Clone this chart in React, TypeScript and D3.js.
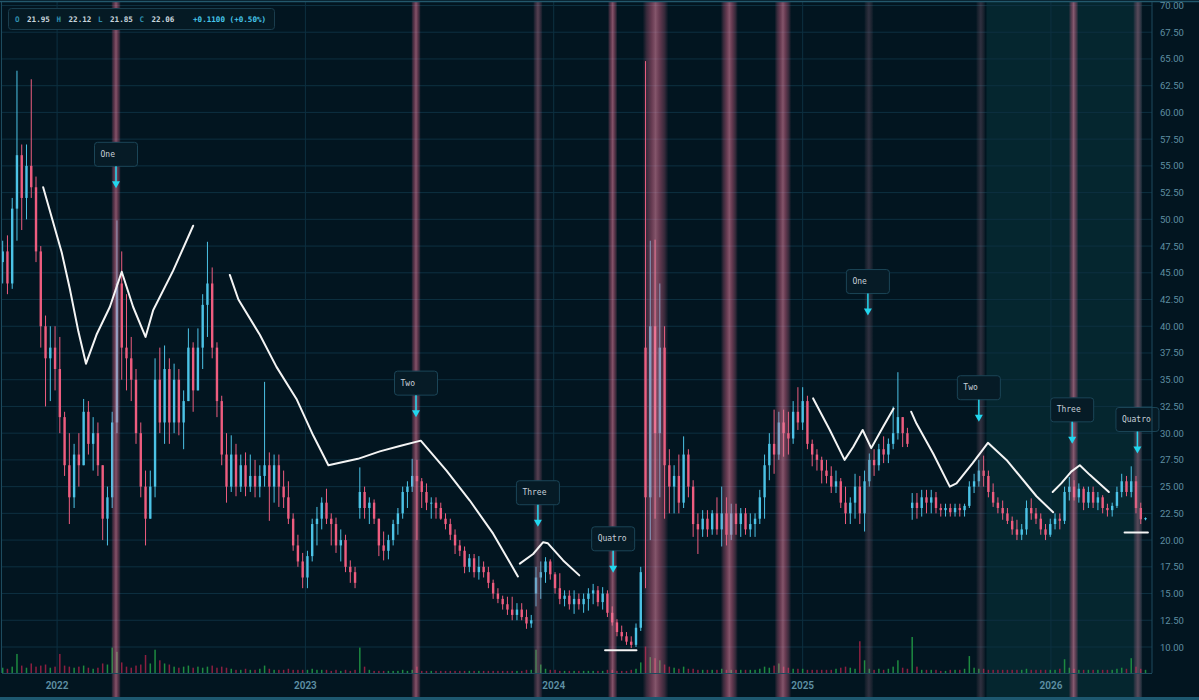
import React from "react";
import * as d3 from "d3";

// weekly bars: [open, high, low, close, volume]
type Bar = [number, number, number, number, number];

const bars2021: Bar[] = [
  [46, 48, 44, 47, 5], [47, 48.5, 43, 44, 4], [44, 52, 43.5, 51, 6], [51, 63.9, 48, 56, 18],
  [56, 57, 49, 52, 7], [52, 57, 50, 55, 5], [55, 63.1, 52, 53, 9], [53, 54, 46, 47, 6],
  [47, 47.5, 38, 40, 7], [40, 41, 32.5, 37, 8], [37, 40, 33, 38, 5], [38, 40, 34, 36, 6],
];

const bars2022: Bar[] = [
  [36, 39, 30, 31.5, 18], [31.5, 32, 26, 27, 7], [27, 30, 21.5, 24, 6], [24, 29, 23, 28, 5],
  [28, 30, 25, 27, 6], [27, 33.2, 27, 32, 7], [32, 33, 28, 29, 5], [29, 31.5, 26.5, 30, 4],
  [30, 31, 26, 27, 5], [27, 27, 20, 22, 9], [22, 25, 19.5, 24, 8], [24, 32, 23, 31, 24],
  [31, 49.9, 30, 44, 20], [44, 47, 35, 38, 10], [38, 43, 34, 37, 6], [37, 39, 33, 35, 5],
  [35, 36, 29, 30, 7], [30, 31, 24, 25, 8], [25, 26.5, 19.5, 22, 17], [22, 26.5, 22, 25, 9],
  [25, 37, 24, 35, 22], [35, 38, 30, 31, 12], [31, 38.2, 29, 36, 9], [36, 37, 29, 31, 8],
  [31, 36.5, 30, 35, 6], [35, 36, 29.8, 31, 5], [31, 34, 28.5, 33, 6], [33, 39.8, 33, 38, 7],
  [38, 38.5, 32, 34, 5], [34, 39.8, 34, 38, 6], [38, 43, 36, 42, 5], [42, 47.9, 39, 44, 6],
  [44, 45.5, 37, 38, 7], [38, 38.5, 31.5, 33, 5], [33, 33.5, 27, 28, 6], [28, 30, 23.5, 25, 5],
  [25, 29.8, 24.5, 28, 4], [28, 29, 24.1, 25, 3], [25, 28, 24.5, 27, 3], [27, 28.2, 24.1, 25, 4],
  [25, 28, 24.5, 26, 3], [26, 27.5, 24, 25, 3], [25, 27, 24, 26, 4], [26, 34.8, 25, 27, 7],
  [27, 28.2, 21.8, 25, 4], [25, 28, 23.5, 27, 3], [27, 28, 23.1, 25, 3], [25, 26.5, 23, 24, 3],
  [24, 25.5, 21.5, 22, 4], [22, 22.5, 19, 19.5, 3], [19.5, 20.5, 17.5, 18, 3], [18, 18.8, 15.5, 16.5, 3],
];

const bars2023: Bar[] = [
  [16.5, 19, 15.5, 18.5, 3], [18.5, 22, 18, 21.5, 4], [21.5, 23.1, 19.5, 22, 3], [22, 24, 21, 23.5, 3],
  [23.5, 24.8, 21.5, 22, 3], [22, 22.5, 19.5, 21.5, 2], [21.5, 22.1, 18.8, 19.5, 3], [19.5, 21, 18, 20, 2],
  [20, 20.5, 17, 17.5, 3], [17.5, 18.1, 16, 17, 2], [17, 17.5, 15.5, 16, 3], [23, 26.8, 22, 24.5, 24],
  [24.5, 25, 22, 23, 6], [23, 24, 21.5, 23.5, 3], [23.5, 23.8, 21.5, 22, 2], [22, 22, 18.5, 19.5, 2],
  [19.5, 20.8, 18.1, 19, 2], [19, 20.5, 18.2, 20, 2], [20, 21.9, 19.5, 21.5, 2], [21.5, 23, 20.5, 22.5, 2],
  [22.5, 25, 22, 24.5, 3], [24.5, 25.5, 23, 25, 2], [25, 27.6, 24.5, 26, 3], [26, 27.5, 20, 25.5, 6],
  [25.5, 25.8, 23, 24.5, 2], [24.5, 25.3, 22.8, 23.5, 2], [23.5, 24, 22, 23.5, 2], [23.5, 24, 22, 23, 2],
  [23, 23.5, 21.9, 22, 2], [22, 22.5, 21, 21.5, 2], [21.5, 22, 20, 20.5, 2], [20.5, 21, 18.7, 19.5, 2],
  [19.5, 20, 18.5, 19, 2], [19, 19.4, 16.9, 17.5, 2], [17.5, 18.7, 17, 18.3, 2], [18.3, 18.7, 16.5, 17, 2],
  [17, 18.5, 16.3, 17.5, 2], [17.5, 18, 16.5, 17, 2], [17, 17.5, 15.5, 16, 2], [16, 16.3, 14.5, 15, 2],
  [15, 15.5, 14.1, 14.5, 2], [14.5, 14.8, 13.5, 14, 2], [14, 14.7, 13, 13.5, 2], [13.5, 14.7, 12.5, 13, 2],
  [13, 14.1, 12.5, 13.5, 2], [13.5, 14.1, 12.5, 12.8, 2], [12.8, 13.5, 11.7, 12.2, 3], [12.2, 13, 11.8, 12.5, 3],
  [15, 17.5, 13.8, 16.5, 22], [16.5, 18, 14.5, 17, 8], [17, 18.4, 16, 18, 4], [18, 18.2, 16.3, 16.8, 3],
];

const bars2024: Bar[] = [
  [16.8, 17, 15, 15.5, 3], [15.5, 16.9, 14, 14.5, 2], [14.5, 15.3, 13.8, 14.8, 2], [14.8, 15.3, 13.5, 14, 2],
  [14, 15.3, 13.1, 14.5, 2], [14.5, 15, 13.5, 14, 2], [14, 15, 13.2, 14.5, 2], [14.5, 15.5, 13.4, 15, 2],
  [15, 15.9, 14, 15.3, 2], [15.3, 15.7, 13.8, 14.2, 2], [14.2, 15.6, 13.5, 15, 2], [15, 15.3, 12.8, 13.2, 3],
  [13.2, 13.8, 12, 12.3, 3], [12.3, 12.6, 11, 11.4, 2], [11.4, 12, 10.6, 11, 2], [11, 11.4, 10.2, 10.5, 2],
  [10.5, 11, 9.9, 10.2, 3], [10.2, 12.2, 10, 11.8, 4], [11.8, 17.5, 11.5, 17, 10], [38, 64.8, 15.5, 24, 25],
  [24, 48, 20, 40, 15], [40, 48.1, 22, 30, 14], [30, 44, 24, 38, 12], [38, 40, 22, 27, 8],
  [27, 28.5, 22.5, 25, 6], [25, 27, 22.5, 26, 5], [26, 28, 22.5, 23.5, 4], [23.5, 29.7, 23, 28, 6],
  [28, 28.5, 24, 25, 4], [25, 25.6, 20.3, 21.5, 4], [21.5, 22.5, 18.7, 21, 3], [21, 22.8, 20.3, 22, 3],
  [22, 22.8, 20.3, 21, 3], [21, 22.8, 20.5, 22.5, 3], [22.5, 24, 20.5, 21, 3], [21, 25, 19.4, 22.5, 4],
  [22.5, 24, 19.5, 20.5, 3], [20.5, 23.4, 20, 22.5, 3], [22.5, 23.4, 20.5, 21.5, 3], [21.5, 23, 20.3, 22.5, 3],
  [22.5, 23, 20.5, 21, 3], [21, 22.5, 20.3, 21.5, 3], [21.5, 22.5, 20.3, 22, 3], [22, 24.7, 21.5, 24, 4],
  [24, 28, 22, 27, 6], [27, 30, 25.6, 29, 5], [29, 32.2, 26.2, 28, 7], [28, 32, 27.5, 31, 9],
  [31, 32.2, 27.8, 30, 6], [30, 32, 28, 29.5, 5], [29.5, 33, 29, 32, 4], [32, 34.3, 30.3, 31, 4],
];

const bars2025: Bar[] = [
  [31, 34.3, 30.3, 33, 4], [33, 33.5, 28.5, 29, 3], [29, 29.4, 26.9, 28, 3], [28, 28.5, 26.5, 27.5, 3],
  [27.5, 27.8, 25.3, 26.5, 3], [26.5, 27.5, 25.3, 26, 3], [26, 26.9, 24.4, 25, 3], [25, 26.5, 24.4, 25.5, 4],
  [25.5, 25.8, 23, 23.5, 5], [23.5, 25, 21.5, 22.5, 6], [22.5, 24, 21.5, 23.5, 5], [23.5, 26.2, 22, 25, 4],
  [25, 26, 21.5, 22.5, 30], [22.5, 26.5, 20.8, 25.5, 12], [25.5, 28.1, 25, 27.5, 4], [27.5, 28.5, 26, 27, 3],
  [27, 29, 26.5, 28.5, 4], [28.5, 29.7, 27.2, 28, 3], [28, 29.5, 27.2, 29, 4], [29, 32.5, 28.5, 30, 6],
  [30, 35.7, 29.4, 31.5, 12], [31.5, 31.5, 28.7, 30, 5], [30, 30.5, 28.7, 29, 4], [23, 24.4, 21.9, 23.5, 34],
  [23.5, 24.4, 22, 23, 6], [23, 24.7, 22.2, 24, 3], [24, 24.7, 22.5, 23.5, 3], [23.5, 24.7, 22.5, 24, 3],
  [24, 24.5, 22.5, 23, 3], [23, 23.4, 22.2, 22.8, 2], [22.8, 23.4, 22.2, 23, 2], [23, 23.4, 22.2, 22.6, 3],
  [22.6, 23.4, 22.2, 23, 3], [23, 23.4, 22.2, 22.8, 3], [22.8, 23.4, 22.2, 23.2, 4], [23.2, 25.5, 23, 25, 16],
  [25, 26.2, 24.4, 25.5, 5], [25.5, 27.5, 25, 26.5, 4], [26.5, 27.9, 25, 26, 4], [26, 26.5, 24, 24.5, 3],
  [24.5, 25.3, 23.1, 23.5, 3], [23.5, 24, 22.5, 23, 3], [23, 23.7, 21.9, 22.5, 3], [22.5, 23, 21.5, 21.8, 3],
  [21.8, 22.2, 20.5, 21, 3], [21, 21.9, 20, 20.5, 3], [20.5, 21.5, 20, 21, 3], [21, 23.7, 20.5, 23, 4],
  [23, 23.9, 21.9, 22.5, 3], [22.5, 23, 21.5, 22, 3], [22, 22.5, 20.5, 21, 3], [21, 21.5, 20, 20.5, 3],
  [20.5, 22, 20.3, 21.5, 3],
];

const bars2026: Bar[] = [
  [21.5, 22.5, 21, 22, 3], [22, 22.5, 21, 21.8, 4], [21.8, 25, 21.5, 24.5, 13], [24.5, 25.9, 23.7, 25, 5],
  [25, 25.6, 23.7, 24, 4], [24, 25.3, 23.5, 24.8, 3], [24.8, 25, 22.8, 23.5, 3], [23.5, 25, 23, 24.5, 3],
  [24.5, 25, 23, 23.5, 3], [23.5, 24.5, 22.8, 24, 3], [24, 24.2, 22.5, 23, 3], [23, 23.4, 22.2, 22.8, 3],
  [22.8, 23.5, 22.2, 23.2, 3], [23.2, 25, 23, 24.5, 4], [24.5, 26.2, 24, 25.5, 5], [25.5, 26, 24.1, 24.5, 4],
  [24.5, 26.9, 24, 25.5, 14], [25.5, 26, 22.5, 23, 6], [23, 23.5, 21.5, 21.95, 4], [21.95, 22.12, 21.85, 22.06, 3],
];

const bars: Bar[] = [...bars2021, ...bars2022, ...bars2023, ...bars2024, ...bars2025, ...bars2026];

// highlighted sessions, in bar index units [from, to]
const bandsHot: [number, number][] = [
  [22.8, 24.8], [85.8, 87.8], [127.1, 129.1], [134.4, 139.8],
  [150.8, 154.4], [162.1, 165.6], [223.9, 225.9],
];
const bandsMid: [number, number][] = [[111.4, 113.4], [237.4, 239.4]];
const bandsDim: [number, number][] = [[180.9, 182.9], [204.4, 206.4]];
const tealZone: [number, number] = [206.6, 239.2];

// markers: text, bar index, price of arrow tip
const markerText = ["One", "Two", "Three", "Quatro", "One", "Two", "Three", "Quatro"];
const markerBar = [23.8, 86.8, 112.4, 128.2, 181.7, 205.0, 224.6, 238.3];
const markerPrice = [52.9, 31.5, 21.25, 16.94, 41.0, 31.07, 29.0, 28.1];

// hand drawn paths: [bar index, price]
const path1 = [[8.5, 53.0], [12.4, 46.9], [14.1, 43.5], [15.9, 39.5], [17.5, 36.5], [19.7, 39.2], [22.5, 41.8], [25.0, 45.1], [27.4, 41.8], [30.0, 39.0], [31.6, 41.5], [35.8, 45.2], [40.0, 49.4]];
const path2 = [[47.7, 44.8], [49.5, 42.5], [54.0, 39.2], [57.5, 36.2], [61.7, 33.2], [65.2, 29.8], [68.4, 27.0], [74.6, 27.6], [79.2, 28.3], [83.4, 28.8], [87.8, 29.3], [93.2, 26.5], [98.1, 23.7], [103.0, 20.6], [108.2, 16.6]];
const path3 = [[108.6, 17.8], [111.4, 18.7], [113.5, 19.8], [114.5, 19.7], [117.7, 18.1], [121.1, 16.7]];
const path4 = [[126.5, 9.7], [133.1, 9.7]];
const path5 = [[170.2, 33.25], [173.7, 30.3], [176.8, 27.5], [178.6, 28.7], [180.6, 30.3], [182.4, 28.6], [184.9, 30.6], [187.1, 32.3]];
const path6 = [[190.8, 32.0], [191.9, 30.9], [195.4, 28.1], [198.9, 25.0], [200.3, 25.3], [203.7, 27.2], [206.9, 29.1], [210.8, 27.5], [217.1, 24.1], [220.6, 22.6]];
const path7 = [[220.5, 24.5], [222.3, 25.3], [224.4, 26.4], [226.2, 27.0], [228.3, 26.1], [232.3, 24.5]];
const path8 = [[235.6, 20.7], [240.5, 20.7]];
const paths = [path1, path2, path3, path4, path5, path6, path7, path8];

const priceTicks = d3.range(10, 70.001, 2.5);

const W = 1199;
const H = 700;
const left = 2;
const right = 1152;
const top = 2;
const bottom = 673;

const firstBar = new Date(2021, 9, 13);
const barDate = (i: number) => new Date(firstBar.getTime() + i * 7 * 864e5);

const BG = "#021520";
const GRID = "#0d3040";
const UP = "#4cc3e6";
const DOWN = "#ee5d7f";

export default function App() {
  const x = d3.scaleTime().domain([new Date(2021, 9, 12), new Date(2026, 4, 31)]).range([left, right + 1]);
  const y = d3.scaleLinear().domain([10, 70]).range([647, 5.5]);
  const vol = d3.scaleLinear().domain([0, d3.max(bars, (d) => d[4]) as number]).range([0, 36]);
  const bx = (i: number) => x(barDate(i));
  const line = d3.line<number[]>().x((d) => bx(d[0])).y((d) => y(d[1]));

  const years = x.ticks(d3.timeYear.every(1) as d3.TimeInterval);
  const fmt = d3.format(".2f");

  const last = bars[bars.length - 1];
  const prevClose = bars[bars.length - 2][3];
  const chg = last[3] - prevClose;
  const chgTxt = `${chg >= 0 ? "+" : ""}${chg.toFixed(4)} (${chg >= 0 ? "+" : ""}${((chg / prevClose) * 100).toFixed(2)}%)`;

  const mono = "'DejaVu Sans Mono', monospace";
  const sans = "Roboto, 'Noto Sans', sans-serif";

  const grad = (id: string, color: string, core: string, a: number) => (
    <linearGradient id={id} x1="0" x2="1" y1="0" y2="0">
      <stop offset="0" stopColor={color} stopOpacity={0} />
      <stop offset="0.15" stopColor={color} stopOpacity={a * 0.45} />
      <stop offset="0.35" stopColor={color} stopOpacity={a * 0.85} />
      <stop offset="0.5" stopColor={core} stopOpacity={a} />
      <stop offset="0.65" stopColor={color} stopOpacity={a * 0.85} />
      <stop offset="0.85" stopColor={color} stopOpacity={a * 0.45} />
      <stop offset="1" stopColor={color} stopOpacity={0} />
    </linearGradient>
  );

  const band = (b: [number, number], id: string, k: string) => (
    <rect key={k} x={bx(b[0])} y={top} width={bx(b[1]) - bx(b[0])} height={697 - top} fill={`url(#${id})`} />
  );

  return (
    <div style={{ position: "fixed", left: 0, top: 0 }}>
      <svg width={W} height={H} style={{ display: "block", background: BG }}>
        <defs>
          {grad("hot", "#d9668a", "#ee8aa8", 0.55)}
          {grad("mid", "#b66a88", "#c98098", 0.42)}
          {grad("dim", "#8a6478", "#96708a", 0.3)}
          <clipPath id="plot">
            <rect x={left} y={top} width={right - left} height={bottom - top} />
          </clipPath>
        </defs>

        <rect x={bx(tealZone[0])} y={top} width={bx(tealZone[1]) - bx(tealZone[0])} height={697 - top} fill="#05262f" />

        {priceTicks.map((t) => (
          <line key={t} x1={left} x2={right} y1={y(t)} y2={y(t)} stroke={GRID} />
        ))}
        {years.map((d) => (
          <line key={+d} x1={x(d)} x2={x(d)} y1={top} y2={bottom} stroke={GRID} />
        ))}

        <g clipPath="url(#plot)">
          {bars.map((d, i) => {
            const cx = bx(i);
            return (
              <rect key={"v" + i} x={cx - 0.75} y={bottom - vol(d[4])} width={1.5} height={vol(d[4])}
                fill={d[3] >= d[0] ? "#1d8a40" : "#8c1f40"} />
            );
          })}
          {bars.map((d, i) => {
            const cx = bx(i);
            const c = d[3] >= d[0] ? UP : DOWN;
            const y0 = y(Math.max(d[0], d[3]));
            const y1 = y(Math.min(d[0], d[3]));
            return (
              <g key={"c" + i}>
                <line x1={cx} x2={cx} y1={y(d[1])} y2={y(d[2])} stroke={c} strokeWidth={1} />
                <rect x={cx - 1.2} y={y0} width={2.4} height={Math.max(1, y1 - y0)} fill={c} />
              </g>
            );
          })}
        </g>

        {bandsDim.map((b, i) => band(b, "dim", "d" + i))}
        {bandsMid.map((b, i) => band(b, "mid", "m" + i))}
        {bandsHot.map((b, i) => band(b, "hot", "h" + i))}

        <g clipPath="url(#plot)">
          {paths.map((p, i) => (
            <path key={i} d={line(p) as string} fill="none" stroke="#f4f4f4" strokeWidth={2}
              strokeLinejoin="round" strokeLinecap="round" />
          ))}
        </g>

        {markerText.map((t, i) => {
          const cx = bx(markerBar[i]);
          const ty = y(markerPrice[i]);
          const boxTop = ty - 46;
          return (
            <g key={"mk" + i}>
              <rect x={cx - 21.5} y={boxTop} width={43} height={24} rx={3} fill="#061b26" stroke="#1b4557" />
              <text x={cx - 15.5} y={boxTop + 12} dominantBaseline="central" fontFamily={mono} fontSize={8}
                fill="#c6d0d8">{t}</text>
              <line x1={cx} x2={cx} y1={boxTop + 24} y2={ty - 6} stroke="#22d6ee" strokeWidth={1.5} />
              <path d={`M${cx - 4},${ty - 7}L${cx + 4},${ty - 7}L${cx},${ty}Z`} fill="#22d6ee" />
            </g>
          );
        })}

        {/* frame */}
        <line x1={0} x2={W} y1={1.5} y2={1.5} stroke="#23586c" strokeWidth={1.5} />
        <line x1={1.5} x2={1.5} y1={top} y2={bottom} stroke="#1d4b5e" />
        <line x1={right} x2={right} y1={top} y2={bottom} stroke="#1d4b5e" />
        <line x1={left} x2={right} y1={bottom + 0.5} y2={bottom + 0.5} stroke="#1d4b5e" />
        <rect x={0} y={697} width={W} height={3} fill="#1d5870" />

        {/* price axis */}
        {priceTicks.map((t) => (
          <text key={"p" + t} x={1160} y={y(t)} dominantBaseline="central" fontFamily={sans} fontSize={9.5}
            fill="#5f8ea0">{fmt(t)}</text>
        ))}

        {/* time axis */}
        {years.map((d) => (
          <text key={"y" + +d} x={x(d)} y={685} textAnchor="middle" dominantBaseline="central"
            fontFamily={sans} fontSize={10} fontWeight={600} fill="#5f90a4">{d3.timeFormat("%Y")(d)}</text>
        ))}

        {/* legend */}
        <g fontFamily={mono} fontSize={7.6} fontWeight="bold">
          <rect x={8.5} y={8.5} width={266} height={21} rx={3} fill="#051a24" stroke="#1a3d4d" />
          {["O", "H", "L", "C"].map((k, i) => (
            <g key={k}>
              <text x={15 + i * 41.5} y={19.5} dominantBaseline="central" fill="#2f8eae">{k}</text>
              <text x={27 + i * 41.5} y={19.5} dominantBaseline="central" fill="#c9d6de">{fmt(last[i])}</text>
            </g>
          ))}
          <text x={193} y={19.5} dominantBaseline="central" fill="#45c6ea">{chgTxt}</text>
        </g>
      </svg>
    </div>
  );
}
